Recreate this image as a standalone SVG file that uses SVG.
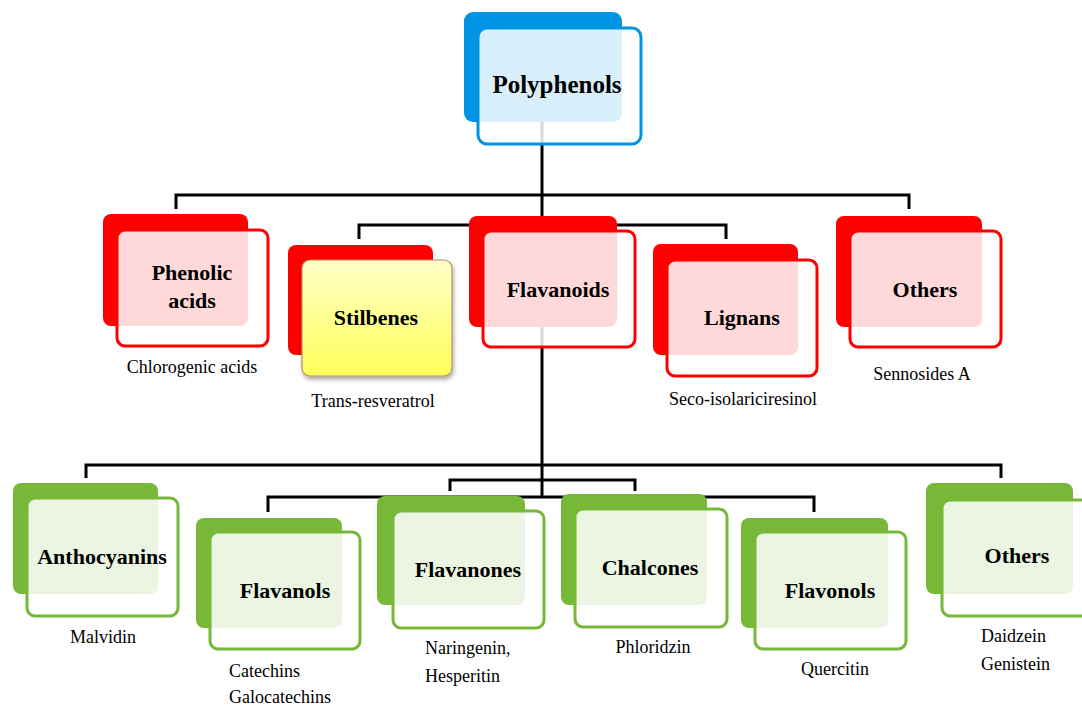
<svg xmlns="http://www.w3.org/2000/svg" width="1082" height="706" viewBox="0 0 1082 706">
  <defs>
    <linearGradient id="yellowFill" x1="0" y1="0" x2="0" y2="1">
      <stop offset="0" stop-color="#FFFFC8"/>
      <stop offset="1" stop-color="#FFFF5A"/>
    </linearGradient>
    <filter id="shadow" x="-10%" y="-10%" width="125%" height="130%">
      <feDropShadow dx="1" dy="3" stdDeviation="2" flood-color="#000" flood-opacity="0.35"/>
    </filter>
  </defs>
  <style>
    .wire { fill: none; stroke: #000; stroke-width: 3; }
    .back-blue { fill: #0094E4; }
    .front-blue { fill: #fff; fill-opacity: 0.85; stroke: #0094E4; stroke-width: 3; }
    .back-red { fill: #FF0000; }
    .front-red { fill: #fff; fill-opacity: 0.85; stroke: #FF0000; stroke-width: 3; }
    .back-green { fill: #77B839; }
    .front-green { fill: #fff; fill-opacity: 0.85; stroke: #77B839; stroke-width: 3; }
    .front-yellow { fill: url(#yellowFill); stroke: #B98E62; stroke-width: 1.2; filter: url(#shadow); }
    .title { font-family: "Liberation Serif", "Times New Roman", serif; font-weight: bold; font-size: 22px; fill: #000; text-anchor: middle; }
    .big { font-size: 25px; }
    .sub { font-family: "Liberation Serif", "Times New Roman", serif; font-size: 18px; fill: #000; text-anchor: middle; }
    .left { text-anchor: start; }
  </style>

  <!-- tree lines, drawn first so node shapes sit on top -->
  <g id="connectors">
    <path class="wire" d="M542,122 V216"/>
    <path class="wire" d="M176,209 V195 H909 V209"/>
    <path class="wire" d="M359,239 V225 H726 V239"/>
    <path class="wire" d="M542,327 V497"/>
    <path class="wire" d="M86,478 V465 H1001 V478"/>
    <path class="wire" d="M450,491 V480 H635 V491"/>
    <path class="wire" d="M268,512 V497 H814 V512"/>
  </g>

  <g id="polyphenols">
    <rect class="back-blue" x="464" y="12" width="158" height="110" rx="9"/>
    <rect class="front-blue" x="478" y="28" width="163" height="116" rx="9"/>
    <text class="title big" x="557" y="93">Polyphenols</text>
  </g>

  <g id="phenolic-acids">
    <rect class="back-red" x="103" y="214" width="145" height="112" rx="8"/>
    <rect class="front-red" x="117" y="230" width="151" height="116" rx="8"/>
    <text class="title" x="192" y="280">Phenolic</text>
    <text class="title" x="192" y="308">acids</text>
    <text class="sub" x="192" y="373">Chlorogenic acids</text>
  </g>

  <g id="stilbenes">
    <rect class="back-red" x="288" y="245" width="145" height="110" rx="8"/>
    <rect class="front-yellow" x="302" y="260" width="150" height="116" rx="8"/>
    <text class="title" x="376" y="325">Stilbenes</text>
    <text class="sub" x="373" y="407">Trans-resveratrol</text>
  </g>

  <g id="flavanoids">
    <rect class="back-red" x="469" y="216" width="148" height="111" rx="8"/>
    <rect class="front-red" x="483" y="231" width="152" height="116" rx="8"/>
    <text class="title" x="558" y="297">Flavanoids</text>
  </g>

  <g id="lignans">
    <rect class="back-red" x="653" y="244" width="145" height="111" rx="8"/>
    <rect class="front-red" x="667" y="260" width="150" height="116" rx="8"/>
    <text class="title" x="742" y="325">Lignans</text>
    <text class="sub" x="743" y="405">Seco-isolariciresinol</text>
  </g>

  <g id="others-top">
    <rect class="back-red" x="836" y="216" width="146" height="111" rx="8"/>
    <rect class="front-red" x="850" y="231" width="151" height="116" rx="8"/>
    <text class="title" x="925" y="297">Others</text>
    <text class="sub" x="922" y="380">Sennosides A</text>
  </g>

  <g id="anthocyanins">
    <rect class="back-green" x="13" y="483" width="145" height="111" rx="8"/>
    <rect class="front-green" x="27" y="498" width="151" height="118" rx="8"/>
    <text class="title" x="102" y="564">Anthocyanins</text>
    <text class="sub" x="103" y="643">Malvidin</text>
  </g>

  <g id="flavanols">
    <rect class="back-green" x="196" y="518" width="146" height="110" rx="8"/>
    <rect class="front-green" x="210" y="532" width="150" height="117" rx="8"/>
    <text class="title" x="285" y="598">Flavanols</text>
    <text class="sub left" x="229" y="677">Catechins</text>
    <text class="sub left" x="229" y="703">Galocatechins</text>
  </g>

  <g id="flavanones">
    <rect class="back-green" x="377" y="496" width="148" height="109" rx="8"/>
    <rect class="front-green" x="393" y="511" width="151" height="117" rx="8"/>
    <text class="title" x="468" y="577">Flavanones</text>
    <text class="sub left" x="425" y="654">Naringenin,</text>
    <text class="sub left" x="425" y="682">Hesperitin</text>
  </g>

  <g id="chalcones">
    <rect class="back-green" x="561" y="494" width="146" height="111" rx="8"/>
    <rect class="front-green" x="575" y="509" width="152" height="118" rx="8"/>
    <text class="title" x="650" y="575">Chalcones</text>
    <text class="sub" x="653" y="653">Phloridzin</text>
  </g>

  <g id="flavonols">
    <rect class="back-green" x="741" y="518" width="147" height="110" rx="8"/>
    <rect class="front-green" x="755" y="532" width="151" height="117" rx="8"/>
    <text class="title" x="830" y="598">Flavonols</text>
    <text class="sub" x="835" y="675">Quercitin</text>
  </g>

  <g id="others-bottom">
    <rect class="back-green" x="926" y="483" width="147" height="111" rx="8"/>
    <rect class="front-green" x="942" y="500" width="152" height="116" rx="8"/>
    <text class="title" x="1017" y="563">Others</text>
    <text class="sub left" x="981" y="642">Daidzein</text>
    <text class="sub left" x="981" y="670">Genistein</text>
  </g>
</svg>
